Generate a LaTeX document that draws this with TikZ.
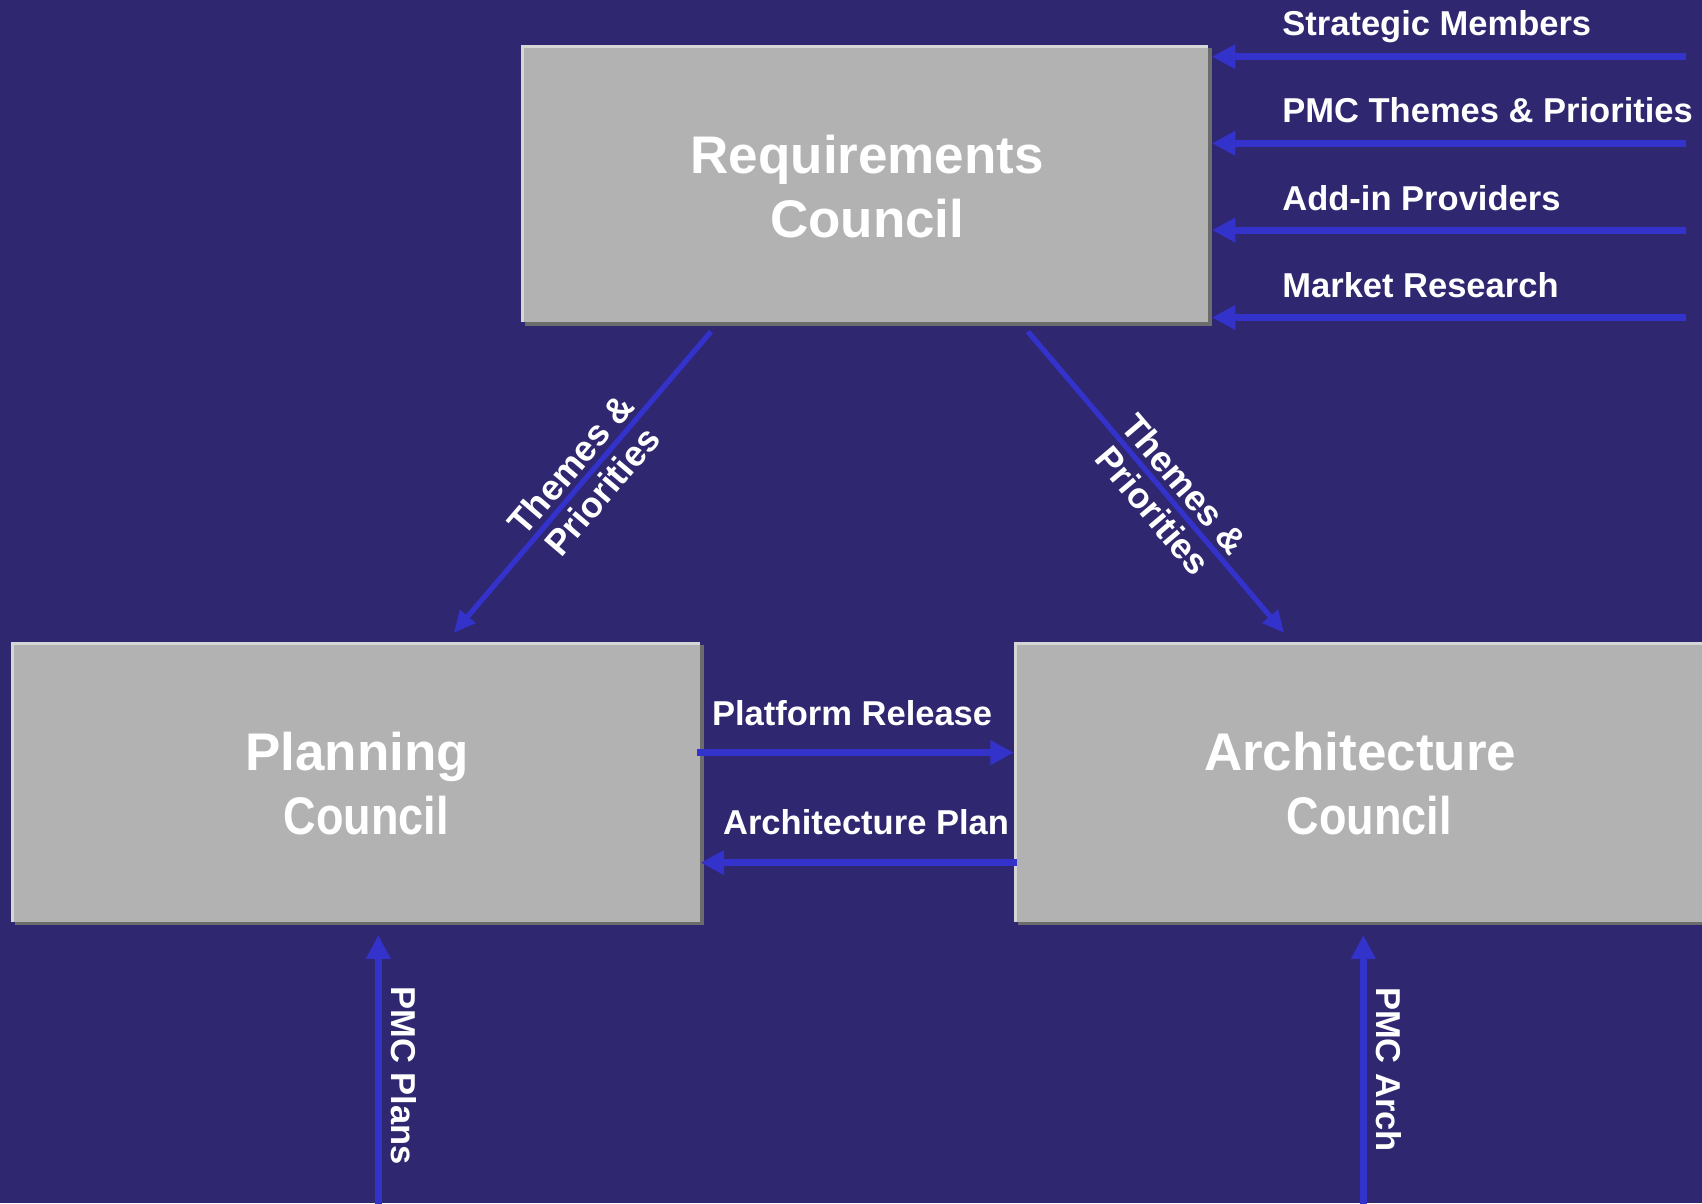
\documentclass[tikz,border=0pt]{standalone}
\usepackage{fontspec}
\setmainfont{Liberation Sans}
\usetikzlibrary{arrows.meta,calc,shadows}
\definecolor{bg}{RGB}{47,39,112}
\definecolor{arr}{RGB}{51,51,204}
\definecolor{boxgray}{RGB}{178,178,178}
\definecolor{boxhi}{RGB}{214,214,214}
\definecolor{boxsh}{RGB}{108,108,108}
\newcommand{\narrowcouncil}{\hspace{8.5pt}\scalebox{0.85}[1]{Council}}
\begin{document}
\begin{tikzpicture}[x=0.5pt,y=-0.5pt,
  council/.style={draw=none, fill=boxgray, inner sep=0pt, outer sep=0pt,
    general shadow={fill=boxsh, shadow xshift=1.75pt, shadow yshift=-1.75pt}},
  hiline/.style={draw=boxhi, line width=1.5pt},
  counciltext/.style={text=white, font=\fontsize{24.4}{29.5}\selectfont\bfseries, align=center, inner sep=0pt},
  lbl/.style={text=white, font=\fontsize{15.9}{19}\selectfont\bfseries, inner sep=0pt},
  thickarrow/.style={draw=arr, line width=3.3pt, -{Triangle[length=10.8pt,width=10.7pt]}},
  diagarrow/.style={draw=arr, line width=2.4pt, -{Triangle[length=10pt,width=9pt]}},
  vertarrow/.style={draw=arr, line width=3pt, -{Triangle[length=11pt,width=10.7pt]}},
  diaglbl/.style={text=white, font=\fontsize{16.5}{19}\selectfont\bfseries, align=center, inner sep=0pt, sloped},
]
\clip (0,0) rectangle (1568,1108.3);
\fill[bg] (0,0) rectangle (1568,1108.3);

% boxes
\node[council, minimum width=316.5pt, minimum height=128pt] (req) at (796.5,169) {};
\node[council, minimum width=317.5pt, minimum height=129pt] (plan) at (327.5,720) {};
\node[council, minimum width=317.5pt, minimum height=129pt] (arch) at (1251.5,720) {};
\foreach \b in {req,plan,arch}{
  \draw[hiline] ($(\b.south west)+(1.5,0)$) -- ($(\b.north west)+(1.5,1.5)$) -- ($(\b.north east)+(0,1.5)$);
}

% box texts
\node[counciltext] (reqt) at (799,172) {Requirements\\Council};
\node[counciltext] (plant) at (329,721.5) {Planning\\\narrowcouncil};
\node[counciltext] (archt) at (1253,721.5) {Architecture\\\narrowcouncil};

% incoming inputs to Requirements Council
\coordinate (in1) at (1553,52.2);
\coordinate (in2) at (1553,132);
\coordinate (in3) at (1553,212);
\coordinate (in4) at (1553,292.5);
\foreach \c in {in1,in2,in3,in4}{
  \draw[thickarrow] (\c) -- ($(\c -| req.east)+(3.5,0)$);
}
\node[lbl, anchor=base west] (l1) at (1181,33) {Strategic Members};
\node[lbl, anchor=base west] (l2) at (1181,113) {PMC Themes \& Priorities};
\node[lbl, anchor=base west] (l3) at (1181,193.5) {Add-in Providers};
\node[lbl, anchor=base west] (l4) at (1181,274) {Market Research};

% diagonal arrows
\draw[diagarrow] ($(req.south)+(-141.5,8.5)$) -- ($(plan.north)+(90.5,-8)$)
  node[diaglbl, pos=0.485] (dl) {Themes \&\\Priorities};
\draw[diagarrow] ($(req.south)+(150.5,8.5)$) -- ($(arch.north)+(-68.5,-8)$)
  node[diaglbl, pos=0.55] (dr) {Themes \&\\Priorities};

% horizontal arrows between planning and architecture
\draw[thickarrow] ($(plan.east)+(-3.2,-26.6)$) -- ($(arch.west)+(0,-26.6)$);
\node[lbl, anchor=base west] (pr) at (655.6,668) {Platform Release};
\draw[thickarrow] ($(arch.west)+(2.6,74.7)$) -- ($(plan.east)+(0.5,74.7)$);
\node[lbl, anchor=base west] (ap) at (665.8,769.2) {Architecture Plan};

% vertical inputs
\coordinate (pp) at (348.5,1112);
\coordinate (pa) at (1256,1112);
\draw[vertarrow, shorten >=6.2pt] (pp) -- (pp |- plan.south);
\draw[vertarrow, shorten >=6.2pt] (pa) -- (pa |- arch.south);
\node[lbl, rotate=-90, anchor=base west] (pmcp) at (361,908.3) {PMC Plans};
\node[lbl, rotate=-90, anchor=base west] (pmca) at (1268,909) {PMC Arch};
\end{tikzpicture}
\end{document}
